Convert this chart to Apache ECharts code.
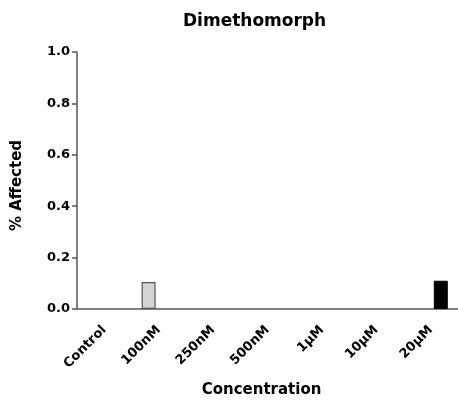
<!DOCTYPE html>
<html><head><meta charset="utf-8">
<script src="https://cdn.jsdelivr.net/npm/echarts@6/dist/echarts.min.js"></script>
<style>html,body{margin:0;padding:0;background:#fff}#c{width:458px;height:409px}</style>
</head><body><div id="c"></div>
<script>
const categories = ['Control','100nM','250nM','500nM','1\u00B5M','10\u00B5M','20\u00B5M'];
const seriesLow = [null, 0.105, null, null, null, null, null];
const seriesHigh = [null, null, null, null, null, null, 0.11];
const yTicks = [0, 0.2, 0.4, 0.6, 0.8, 1.0];
const font = 'DejaVu Sans, Liberation Sans, Arial, sans-serif';
const chart = echarts.init(document.getElementById('c'), null, {renderer:'canvas'});
chart.setOption({
  animation:false,
  title:{text:'Dimethomorph', left:178, top:8,
    textStyle:{fontFamily:font, fontWeight:'bold', fontSize:17, color:'#000'}},
  grid:{left:77, top:52, width:382.7, bottom:100, containLabel:false},
  xAxis:{type:'category', data:categories, boundaryGap:true,
    name:'Concentration', nameLocation:'middle', nameGap:74, nameMoveOverlap:false,
    nameTextStyle:{fontFamily:font, fontWeight:'bold', fontSize:15, color:'#000', padding:[0,12,0,0]},
    axisLine:{lineStyle:{color:'#555', width:1.5}},
    axisTick:{alignWithLabel:true, length:6, lineStyle:{color:'#555', width:1.5}},
    axisLabel:{rotate:45, fontFamily:font, fontWeight:'bold', fontSize:13, color:'#000', margin:19, interval:0}},
  yAxis:{type:'value', min:0, max:1, interval:0.2,
    name:'% Affected', nameLocation:'middle', nameGap:52, nameMoveOverlap:false,
    nameTextStyle:{fontFamily:font, fontWeight:'bold', fontSize:15, color:'#000', padding:[0,10,0,0]},
    splitLine:{show:false},
    axisLine:{show:true, lineStyle:{color:'#555', width:1.5}},
    axisTick:{show:true, length:5, lineStyle:{color:'#555', width:1.5}},
    axisLabel:{fontFamily:font, fontWeight:'bold', fontSize:13, color:'#000', margin:7,
      formatter:v=>yTicks.includes(Math.round(v*10)/10)?v.toFixed(1):''}},
  series:[
    {type:'bar', data:seriesLow, barWidth:14, barGap:'43%',
      itemStyle:{color:'#d4d4d4', borderColor:'#555', borderWidth:1.2}},
    {type:'bar', data:seriesHigh, barWidth:14, barGap:'43%',
      itemStyle:{color:'#000', borderColor:'#000', borderWidth:1}}
  ]
});
</script></body></html>
